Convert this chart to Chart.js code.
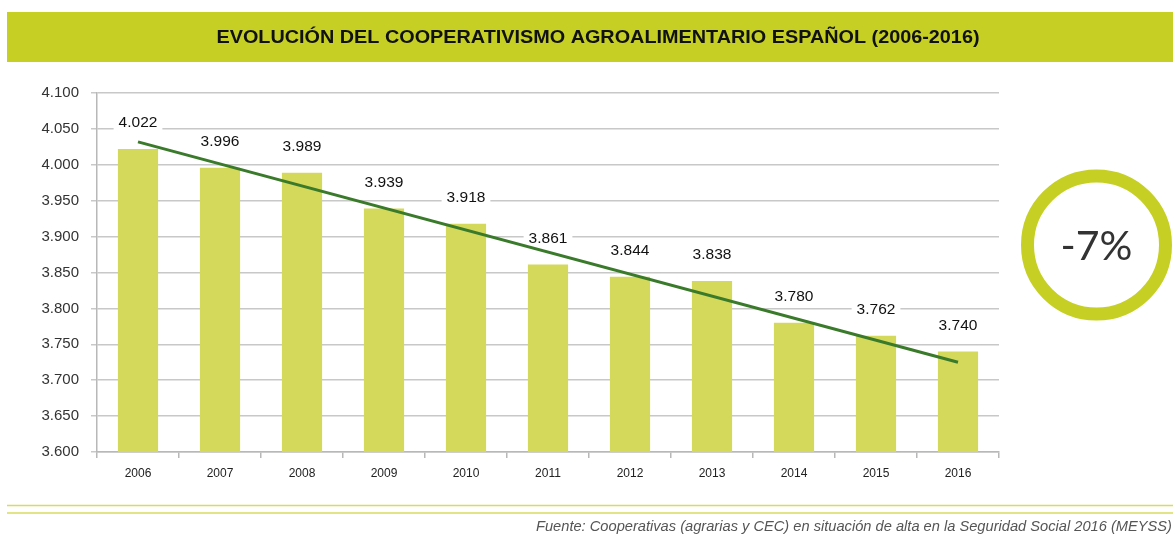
<!DOCTYPE html>
<html>
<head>
<meta charset="utf-8">
<script src="https://cdn.jsdelivr.net/npm/chart.js@4"></script>
<style>
  html, body { margin: 0; padding: 0; background: #fff; }
  canvas { display: block; }
</style>
</head>
<body>
<canvas id="grafica" width="1173" height="536"></canvas>
<script>
// datos
const anios = ['2006', '2007', '2008', '2009', '2010', '2011', '2012', '2013', '2014', '2015', '2016'];
const cooperativas = [4022, 3996, 3989, 3939, 3918, 3861, 3844, 3838, 3780, 3762, 3740];
// linea de tendencia: solo extremos
const tendencia = [4032, null, null, null, null, null, null, null, null, null, 3725];
const ejeY = { min: 3600, max: 4100, paso: 50 };
const titulo = 'EVOLUCIÓN DEL COOPERATIVISMO AGROALIMENTARIO ESPAÑOL (2006-2016)';
const fuente = 'Fuente: Cooperativas (agrarias y CEC) en situación de alta en la Seguridad Social 2016 (MEYSS)';
const variacion = '-7%';

const verdeTitulo = '#c6d024';
const verdeBarra = '#d4d95b';
const verdeLinea = '#3a7a2b';

function fmt(v) {
  return String(v).replace(/\B(?=(\d{3})+(?!\d))/g, '.');
}

function textoAjustado(ctx, txt, x, y, ancho) {
  const w = ctx.measureText(txt).width;
  const s = ancho / w;
  ctx.save();
  ctx.translate(x, y);
  ctx.scale(s, 1);
  ctx.fillText(txt, 0, 0);
  ctx.restore();
}

const decoracion = {
  id: 'decoracion',
  beforeDraw(chart) {
    const ctx = chart.ctx;
    ctx.save();
    // barra del titulo
    ctx.fillStyle = verdeTitulo;
    ctx.fillRect(7, 12, 1166, 50);
    ctx.fillStyle = '#111';
    ctx.font = 'bold 19px "Liberation Sans", Arial, sans-serif';
    ctx.textAlign = 'center';
    ctx.textBaseline = 'middle';
    textoAjustado(ctx, titulo, 598, 38, 763);

    // lineas inferiores
    ctx.strokeStyle = '#d8dc5e';
    ctx.lineWidth = 1.5;
    [505.5, 513].forEach(y => {
      ctx.beginPath();
      ctx.moveTo(7, y);
      ctx.lineTo(1173, y);
      ctx.stroke();
    });

    // fuente
    ctx.fillStyle = '#555';
    ctx.font = 'italic 14px "Liberation Sans", Arial, sans-serif';
    ctx.textAlign = 'right';
    ctx.textBaseline = 'middle';
    textoAjustado(ctx, fuente, 1172, 527, 636);

    // circulo -7%
    ctx.beginPath();
    ctx.arc(1096.5, 245, 69, 0, Math.PI * 2);
    ctx.strokeStyle = verdeTitulo;
    ctx.lineWidth = 13;
    ctx.stroke();
    ctx.fillStyle = '#333';
    ctx.font = '400 41px Lato, "Open Sans", sans-serif';
    ctx.textAlign = 'center';
    ctx.textBaseline = 'middle';
    ctx.fillText(variacion, 1096.5, 247);
    ctx.restore();
  },
  // etiquetas antes de las series, asi la linea de tendencia queda encima
  beforeDatasetsDraw(chart) {
    const ctx = chart.ctx;
    const meta = chart.getDatasetMeta(1);
    ctx.save();
    ctx.font = '15.5px "Liberation Sans", Arial, sans-serif';
    ctx.textAlign = 'center';
    ctx.textBaseline = 'middle';
    meta.data.forEach((bar, i) => {
      const txt = fmt(cooperativas[i]);
      const w = ctx.measureText(txt).width;
      const y = bar.y - 26;
      ctx.fillStyle = '#fff';
      ctx.fillRect(bar.x - w / 2 - 5, y - 9, w + 10, 18);
      ctx.fillStyle = '#111';
      ctx.fillText(txt, bar.x, y);
    });
    ctx.restore();
  }
};

const ctx = document.getElementById('grafica').getContext('2d');
new Chart(ctx, {
  type: 'bar',
  data: {
    labels: anios,
    datasets: [
      {
        type: 'line',
        label: 'Tendencia',
        data: tendencia,
        borderColor: verdeLinea,
        borderWidth: 3,
        pointRadius: 0,
        spanGaps: true,
        fill: false,
        order: 0
      },
      {
        label: 'Cooperativas',
        data: cooperativas,
        backgroundColor: verdeBarra,
        barPercentage: 0.49,
        categoryPercentage: 1,
        order: 1
      }
    ]
  },
  options: {
    responsive: false,
    animation: false,
    layout: {
      padding: { left: 0, right: 174, top: 93, bottom: 44 }
    },
    scales: {
      x: {
        afterFit: s => { s.height = 40; },
        grid: {
          offset: true,
          drawOnChartArea: false,
          drawTicks: true,
          tickLength: 6,
          color: '#b8b8b8',
          lineWidth: 1.5
        },
        border: { display: true, color: '#b8b8b8', width: 1.5 },
        ticks: {
          color: '#222',
          padding: 8,
          font: { family: '"Liberation Sans", Arial, sans-serif', size: 12 }
        }
      },
      y: {
        min: ejeY.min,
        max: ejeY.max,
        afterFit: s => { s.width = 97; },
        grid: {
          color: '#c8c8c8',
          lineWidth: 1.5,
          tickLength: 6
        },
        border: { display: true, color: '#b8b8b8', width: 1.5 },
        ticks: {
          stepSize: ejeY.paso,
          color: '#333',
          padding: 12,
          font: { family: '"Liberation Sans", Arial, sans-serif', size: 15 },
          callback: v => fmt(v)
        }
      }
    },
    plugins: {
      legend: { display: false },
      tooltip: { enabled: false }
    }
  },
  plugins: [decoracion]
});
</script>
</body>
</html>
